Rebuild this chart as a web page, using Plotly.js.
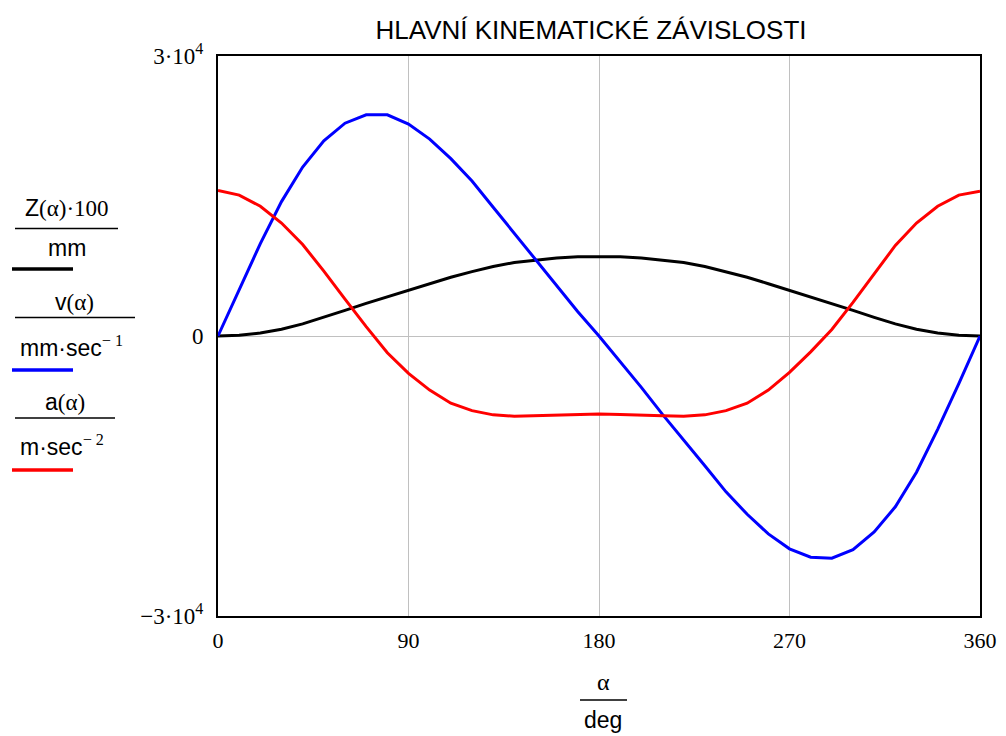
<!DOCTYPE html>
<html>
<head>
<meta charset="utf-8">
<script src="https://cdn.plot.ly/plotly-3.0.1.min.js"></script>
<style>
  html, body { margin: 0; padding: 0; background: #fff; }
  #chart { width: 1006px; height: 736px; }
</style>
</head>
<body>
<div id="chart"></div>
<script>
// Crank angle, degrees
const alphaDeg = [0, 10, 20, 30, 40, 50, 60, 70, 80, 90, 100, 110, 120, 130, 140, 150, 160, 170, 180,
                  190, 200, 210, 220, 230, 240, 250, 260, 270, 280, 290, 300, 310, 320, 330, 340, 350, 360];

// Piston position Z(α)·100 / mm
const zPos = [0, 80, 320, 730, 1300, 2000, 2750, 3500, 4200, 4900, 5600, 6300, 6900, 7450, 7880, 8150, 8350, 8480, 8520,
              8480, 8350, 8150, 7880, 7450, 6900, 6300, 5600, 4900, 4200, 3500, 2750, 2000, 1300, 730, 320, 80, 0];

// Piston velocity v(α) / (mm·sec^-1)
const vel = [0, 5000, 9900, 14400, 18100, 20900, 22800, 23700, 23700, 22700, 21100, 19000, 16600, 13800, 11000, 8200, 5300, 2600, 0,
             -2700, -5500, -8400, -11100, -13900, -16700, -19100, -21200, -22800, -23700, -23800, -22900, -21000, -18300, -14600, -10000, -5100, 0];

// Piston acceleration a(α) / (m·sec^-2)
const acc = [15600, 15100, 13900, 12100, 9800, 6950, 3950, 1000, -1800, -4000, -5800, -7200, -8000, -8450, -8600, -8550, -8450, -8400, -8350,
             -8400, -8500, -8550, -8600, -8450, -8000, -7200, -5800, -3900, -1700, 700, 3600, 6700, 9700, 12100, 13900, 15100, 15500];

const xTicks = [0, 90, 180, 270, 360];
const xTickText = ['0', '90', '180', '270', '360'];
const yTicks = [-30000, 0, 30000];
const yTickText = ['\u22123\u00B710<sup>4</sup>', '0', '3\u00B710<sup>4</sup>'];

const seriesColors = ['#000000', '#0000ff', '#ff0000'];

// plot area in page pixels
const L = 218, R = 980, T = 56, B = 616;
const W = 1006, H = 736;
const px = x => (x - L) / (R - L);
const py = y => (B - y) / (B - T);

const SANS = 'Liberation Sans, Arial, sans-serif';
const SERIF = 'Liberation Serif, Times New Roman, serif';
const ser = s => '<span style="font-family:' + SERIF + '">' + s + '</span>';

const traces = [
  { x: alphaDeg, y: zPos, name: 'Z', mode: 'lines', line: { color: seriesColors[0], width: 3 } },
  { x: alphaDeg, y: vel,  name: 'v', mode: 'lines', line: { color: seriesColors[1], width: 3 } },
  { x: alphaDeg, y: acc,  name: 'a', mode: 'lines', line: { color: seriesColors[2], width: 3 } }
];

const ann = (x, y, text, size, extra) => Object.assign({
  xref: 'paper', yref: 'paper', x: px(x), y: py(y), text: text, showarrow: false,
  xanchor: 'center', yanchor: 'middle', font: { family: SANS, size: size || 23, color: '#000' }
}, extra || {});

const hline = (x0, x1, y, color, width) => ({
  type: 'line', xref: 'paper', yref: 'paper', x0: px(x0), x1: px(x1), y0: py(y), y1: py(y),
  line: { color: color, width: width }
});

const annotations = [
  ann(67, 208, 'Z' + ser('(\u03B1)\u00B7100')),
  ann(67, 248, 'mm'),
  ann(74, 302, 'v' + ser('(\u03B1)')),
  ann(18, 347, 'mm\u00B7sec' + ser('<sup>\u2212 1</sup>'), 23, { xanchor: 'left' }),
  ann(65, 402, 'a' + ser('(\u03B1)')),
  ann(18, 445, 'm\u00B7sec' + ser('<sup>\u2212 2</sup>'), 23, { xanchor: 'left' }),
  ann(603, 682, ser('\u03B1'), 24),
  ann(603, 720, 'deg', 23)
];

const shapes = [
  hline(15, 118, 228.5, '#000', 1.3),
  hline(12, 73, 269, seriesColors[0], 3.5),
  hline(15, 135, 317.5, '#000', 1.3),
  hline(12, 73, 370, seriesColors[1], 3.5),
  hline(15, 115, 418, '#000', 1.3),
  hline(12, 73, 470, seriesColors[2], 3.5),
  hline(580, 627, 700, '#000', 1.3)
];

const layout = {
  width: W, height: H,
  margin: { l: L, r: W - R, t: T, b: H - B },
  paper_bgcolor: '#ffffff', plot_bgcolor: '#ffffff',
  showlegend: false,
  title: {
    text: 'HLAVNÍ KINEMATICKÉ ZÁVISLOSTI',
    font: { family: SANS, size: 26, color: '#000' },
    x: 591 / W, xanchor: 'center', y: 1 - 30 / H, yanchor: 'middle'
  },
  xaxis: {
    range: [0, 360], tickvals: xTicks, ticktext: xTickText, ticks: '',
    showgrid: true, gridcolor: '#c0c0c0', gridwidth: 1, zeroline: false,
    showline: true, linecolor: '#000', linewidth: 2, mirror: true,
    ticklabelstandoff: 4,
    tickfont: { family: SERIF, size: 22, color: '#000' }
  },
  yaxis: {
    range: [-30000, 30000], tickvals: yTicks, ticktext: yTickText, ticks: '',
    showgrid: true, gridcolor: '#c0c0c0', gridwidth: 1, zeroline: false,
    showline: true, linecolor: '#000', linewidth: 2, mirror: true,
    ticklabelstandoff: 8,
    tickfont: { family: SERIF, size: 23, color: '#000' }
  },
  annotations: annotations,
  shapes: shapes
};

Plotly.newPlot('chart', traces, layout, { displayModeBar: false, staticPlot: true });
</script>
</body>
</html>
